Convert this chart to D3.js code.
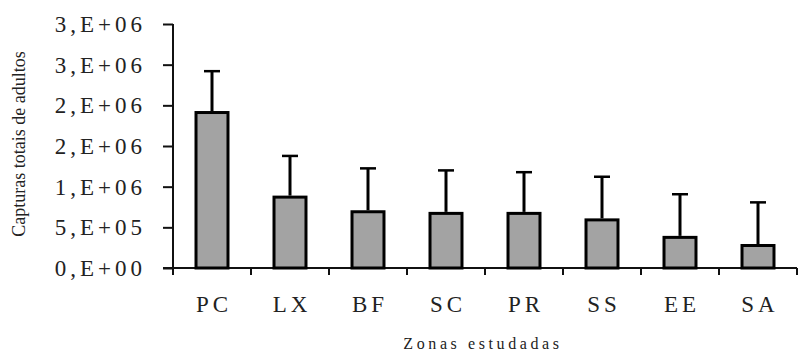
<!DOCTYPE html>
<html>
<head>
<meta charset="utf-8">
<script src="https://cdn.jsdelivr.net/npm/d3@7"></script>
<style>
  body { margin: 0; background: #fff; }
  svg { display: block; }
  text { font-family: "Liberation Serif", "Times New Roman", serif; fill: #222; }
</style>
</head>
<body>
<figure style="margin:0"></figure>
<script>
// data
const zones = ["PC", "LX", "BF", "SC", "PR", "SS", "EE", "SA"]
const captures = [1930000, 890000, 710000, 690000, 690000, 610000, 395000, 295000]
const errors = [490000, 488000, 515000, 510000, 488000, 512000, 512000, 512000]
const yTicks = [0, 500000, 1000000, 1500000, 2000000, 2500000, 3000000]
const yTickLabels = ["0,E+00", "5,E+05", "1,E+06", "2,E+06", "2,E+06", "3,E+06", "3,E+06"]

const svgWidth = 800
const svgHeight = 354

// plot box (pixels)
const plotLeft = 173, plotRight = 797, plotTop = 24, plotBottom = 268

const svg = d3.select('figure')
  .append('svg')
  .attr('width', svgWidth)
  .attr('height', svgHeight)

const x = d3.scaleBand()
  .domain(zones)
  .range([plotLeft, plotRight])
  .paddingInner(0)
  .paddingOuter(0)

const y = d3.scaleLinear()
  .domain([0, 3000000])
  .range([plotBottom, plotTop])

const barW = x.bandwidth() * 0.41

// Y axis
const yAxis = svg.append('g')
  .attr('transform', `translate(${plotLeft},0)`)
  .call(d3.axisLeft(y)
    .tickValues(yTicks)
    .tickSize(10)
    .tickPadding(17)
    .tickFormat((d, i) => yTickLabels[i]))
yAxis.select('.domain').attr('stroke', '#111').attr('stroke-width', 2)
  .attr('d', `M0,${plotTop}V${plotBottom}`)
yAxis.selectAll('.tick line').attr('stroke', '#111').attr('stroke-width', 2)
yAxis.selectAll('.tick text')
  .style('font-size', '23px')
  .style('letter-spacing', '4px')
  .attr('fill', '#2a2a2a')

// X axis: labels at centres, ticks at band edges
const xAxis = svg.append('g')
  .attr('transform', `translate(0,${plotBottom})`)
  .call(d3.axisBottom(x).tickSize(0).tickPadding(28))
xAxis.select('.domain').attr('stroke', '#111').attr('stroke-width', 2)
  .attr('d', `M${plotLeft - 10},0H${plotRight}`)
xAxis.selectAll('.tick text')
  .style('font-size', '23px')
  .style('letter-spacing', '4px')
  .attr('dx', '2px')
  .attr('fill', '#2a2a2a')

const edges = zones.map(d => x(d)).concat([x.range()[1]])
xAxis.selectAll('.edge')
  .data(edges)
  .enter().append('line')
  .attr('class', 'edge')
  .attr('x1', d => d).attr('x2', d => d)
  .attr('y1', 0).attr('y2', 7)
  .attr('stroke', '#111')
  .attr('stroke-width', 2)

// error bars (drawn first so bars cover the stem bottom)
const errG = svg.append('g')
errG.selectAll('.stem')
  .data(zones)
  .enter().append('line')
  .attr('x1', d => x(d) + x.bandwidth() / 2)
  .attr('x2', d => x(d) + x.bandwidth() / 2)
  .attr('y1', (d, i) => y(captures[i]))
  .attr('y2', (d, i) => y(captures[i] + errors[i]))
  .attr('stroke', '#000')
  .attr('stroke-width', 3)
errG.selectAll('.cap')
  .data(zones)
  .enter().append('line')
  .attr('x1', d => x(d) + x.bandwidth() / 2 - 8)
  .attr('x2', d => x(d) + x.bandwidth() / 2 + 8)
  .attr('y1', (d, i) => y(captures[i] + errors[i]))
  .attr('y2', (d, i) => y(captures[i] + errors[i]))
  .attr('stroke', '#000')
  .attr('stroke-width', 2.5)

// bars
svg.append('g')
  .selectAll('rect')
  .data(zones)
  .enter().append('rect')
  .attr('x', d => x(d) + (x.bandwidth() - barW) / 2)
  .attr('y', (d, i) => y(captures[i]) + 1.5)
  .attr('width', barW)
  .attr('height', (d, i) => plotBottom - y(captures[i]) - 1.5)
  .attr('fill', '#a3a3a3')
  .attr('stroke', '#000')
  .attr('stroke-width', 3)

// titles
svg.append('text')
  .attr('x', (plotLeft + plotRight) / 2 - 2)
  .attr('y', 349)
  .attr('text-anchor', 'middle')
  .style('font-size', '16px')
  .style('letter-spacing', '3.6px')
  .text('Zonas estudadas')

svg.append('text')
  .attr('transform', 'translate(25,144) rotate(-90)')
  .attr('text-anchor', 'middle')
  .style('font-size', '18px')
  .text('Capturas totais de adultos')
</script>
</body>
</html>
